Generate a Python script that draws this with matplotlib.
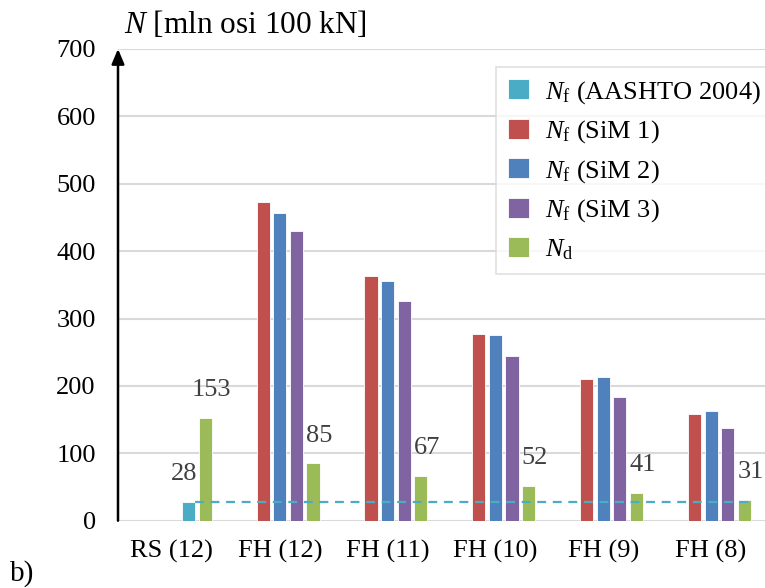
import matplotlib
matplotlib.use("Agg")
import matplotlib.pyplot as plt
import numpy as np

plt.rcParams['font.family'] = ['Liberation Serif', 'DejaVu Serif']
plt.rcParams['mathtext.fontset'] = 'custom'
plt.rcParams['mathtext.rm'] = 'Liberation Serif'
plt.rcParams['mathtext.it'] = 'Liberation Serif:italic'

categories = ["RS (12)", "FH (12)", "FH (11)", "FH (10)", "FH (9)", "FH (8)"]
aashto = [28, None, None, None, None, None]
sim1 = [None, 473, 363, 277, 210, 159]
sim2 = [None, 457, 355, 276, 213, 163]
sim3 = [None, 430, 326, 245, 184, 137]
nd = [153, 85, 67, 52, 41, 31]
yticks = [0, 100, 200, 300, 400, 500, 600, 700]

series = [
    (r"$N_\mathrm{f}$ (AASHTO 2004)", aashto, "#4BACC6", 3),
    (r"$N_\mathrm{f}$ (SiM 1)", sim1, "#C0504D", 1),
    (r"$N_\mathrm{f}$ (SiM 2)", sim2, "#4F81BD", 2),
    (r"$N_\mathrm{f}$ (SiM 3)", sim3, "#8064A2", 3),
    (r"$N_\mathrm{d}$", nd, "#9BBB59", 4),
]

FS = 19
slot = 0.154
width = 0.122

fig = plt.figure(figsize=(7.65, 5.88), dpi=100)
ax = fig.add_axes([118 / 765, 1 - 520.7 / 588, 1 - 118 / 765, (520.7 - 48.9) / 588])

x = np.arange(len(categories))
handles = []
for label, vals, color, s in series:
    xs = [x[i] + (s - 2) * slot for i, v in enumerate(vals) if v is not None]
    ys = [v for v in vals if v is not None]
    h = ax.bar(xs, ys, width=width, color=color, edgecolor="white", linewidth=0.6,
               label=label, zorder=3)
    handles.append(h)

# value labels on the design-traffic bars and the AASHTO bar
for i, v in enumerate(nd):
    ax.annotate(str(v), (x[i] + 2 * slot, v), xytext=(4.5, 12), textcoords="offset points",
                ha="center", va="bottom", fontsize=FS, color="#404040", zorder=5)
for i, v in enumerate(aashto):
    if v is not None:
        ax.annotate(str(v), (x[i] + 1 * slot, v), xytext=(-3.5, 12), textcoords="offset points",
                    ha="center", va="bottom", fontsize=FS, color="#404040", zorder=5)

# dashed reference line at the AASHTO fatigue life
ref = aashto[0]
ax.plot([x[0] + slot + width / 2, x[-1] + 2 * slot + width / 2], [ref, ref],
        ls=(0, (4, 3)), color="#4BACC6", lw=1.6, zorder=4)

ax.set_xlim(-0.5, len(categories) - 0.5)
ax.set_ylim(0, 700)
ax.set_yticks(yticks)
ax.set_xticks(x)
ax.set_xticklabels(categories, fontsize=FS)
ax.tick_params(axis="y", length=0, pad=16, labelsize=FS)
ax.tick_params(axis="x", length=0, pad=14)
ax.grid(axis="y", color="#d9d9d9", lw=1.5, zorder=0)
ax.set_axisbelow(True)
for sp in ["top", "right", "bottom", "left"]:
    ax.spines[sp].set_visible(False)

# vertical axis with arrow head
ax.annotate("", xy=(0, 1.0), xytext=(0, 0), xycoords="axes fraction",
            arrowprops=dict(arrowstyle="-|>,head_length=0.9,head_width=0.38",
                            color="black", lw=1.8, shrinkA=0, shrinkB=0),
            zorder=6, annotation_clip=False)

fig.text(124 / 765, 1 - 33 / 588, r"$N$ [mln osi 100 kN]", fontsize=22.5, va="baseline", ha="left")
fig.text(10 / 765, 1 - 581 / 588, "b)", fontsize=21, va="baseline", ha="left")

leg = ax.legend(handles=handles, loc="upper right",
                bbox_to_anchor=(1.012, (520.7 - 67) / (520.7 - 48.9)),
                fontsize=FS, frameon=True, fancybox=False, edgecolor="#d9d9d9",
                handlelength=0.8, handleheight=0.8, handletextpad=0.6,
                labelspacing=0.48, borderpad=0.45, borderaxespad=0)
leg.get_frame().set_linewidth(1.2)
leg.set_zorder(7)

fig.savefig("out.png", dpi=100)
